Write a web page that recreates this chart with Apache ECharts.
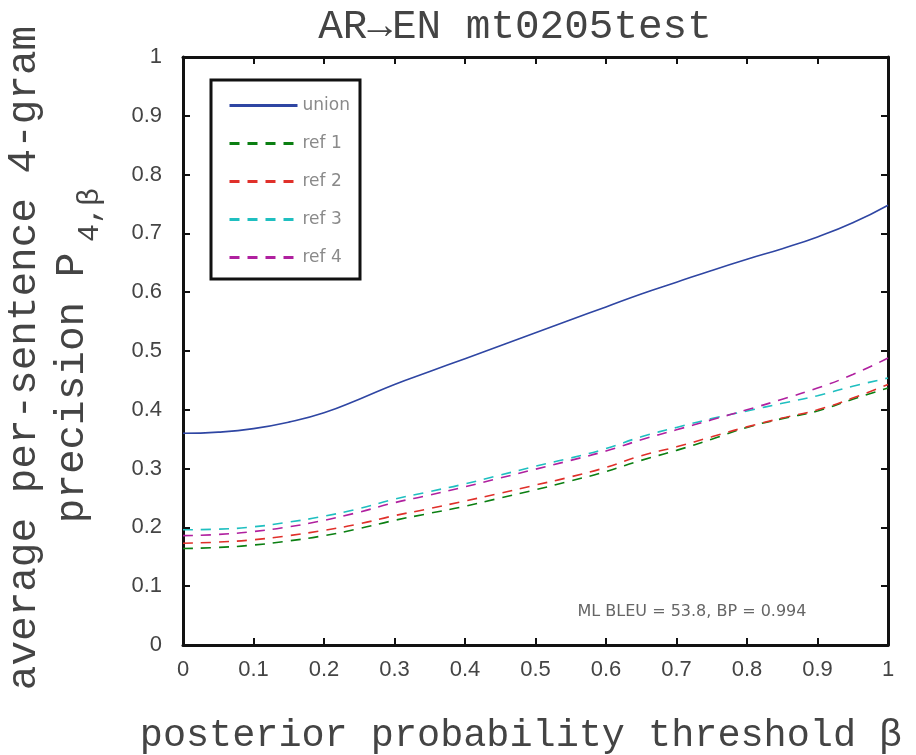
<!DOCTYPE html>
<html>
<head>
<meta charset="utf-8">
<script src="https://cdn.jsdelivr.net/npm/echarts@6/dist/echarts.min.js"></script>
<style>
html,body{margin:0;padding:0;background:#fff;}
#eChart{width:916px;height:755px;}
</style>
</head>
<body>
<div id="eChart"></div>
<script>
// posterior probability threshold (x)
var beta = [0, 0.05, 0.1, 0.15, 0.2, 0.25, 0.3, 0.35, 0.4, 0.45, 0.5,
            0.55, 0.6, 0.65, 0.7, 0.75, 0.8, 0.85, 0.9, 0.95, 1];
// average per-sentence 4-gram precision
var union = [0.360, 0.362, 0.368, 0.379, 0.395, 0.418, 0.443, 0.465, 0.487, 0.509, 0.531,
             0.553, 0.575, 0.597, 0.617, 0.637, 0.656, 0.674, 0.694, 0.718, 0.748];
var ref1 = [0.164, 0.166, 0.170, 0.177, 0.186, 0.198, 0.212, 0.224, 0.236, 0.250, 0.264,
            0.279, 0.295, 0.314, 0.331, 0.350, 0.370, 0.385, 0.398, 0.418, 0.437];
var ref2 = [0.173, 0.175, 0.179, 0.186, 0.195, 0.206, 0.220, 0.232, 0.245, 0.258, 0.272,
            0.286, 0.302, 0.322, 0.337, 0.354, 0.371, 0.386, 0.400, 0.420, 0.443];
var ref3 = [0.196, 0.197, 0.201, 0.209, 0.219, 0.232, 0.248, 0.261, 0.274, 0.289, 0.304,
            0.318, 0.334, 0.354, 0.370, 0.385, 0.398, 0.411, 0.424, 0.440, 0.454];
var ref4 = [0.186, 0.188, 0.193, 0.201, 0.212, 0.226, 0.242, 0.255, 0.269, 0.284, 0.299,
            0.314, 0.330, 0.349, 0.366, 0.383, 0.400, 0.418, 0.437, 0.460, 0.488];
var seriesNames = ['union', 'ref 1', 'ref 2', 'ref 3', 'ref 4'];
var seriesColors = ['#2f46a3', '#0b7f12', '#e0302a', '#1fbfc0', '#b0209f'];
var tickLabels = ['0', '0.1', '0.2', '0.3', '0.4', '0.5', '0.6', '0.7', '0.8', '0.9', '1'];

var MONO = '"Liberation Mono", "DejaVu Sans Mono", monospace';
var TICKFONT = '"Liberation Sans", Arial, sans-serif';

function pairs(ys){
    var out = [];
    for(var i=0;i<beta.length;i++){
        out.push([beta[i], ys[i]]);
    }
    return out;
}

var myChart = echarts.init(document.getElementById('eChart'));
var allData = [union, ref1, ref2, ref3, ref4];
var series = [];
for(var k=0;k<allData.length;k++){
    series.push({
        name: seriesNames[k],
        type: 'line',
        symbol: 'none',
        smooth: true,
        data: pairs(allData[k]),
        lineStyle: {
            color: seriesColors[k],
            width: 1.6,
            type: k === 0 ? 'solid' : [10, 8]
        },
        itemStyle: {color: seriesColors[k]}
    });
}

var frameLine = {show: true, onZero: false, lineStyle: {color: '#111', width: 3}};
var tick = {show: true, inside: true, length: 7, lineStyle: {color: '#111', width: 2}};

var option = {
    animation: false,
    backgroundColor: '#fff',
    grid: {left: 183, right: 28, top: 57, bottom: 110, containLabel: false},
    legend: {
        data: seriesNames,
        orient: 'vertical',
        left: 223,
        top: 92,
        z: 10,
        itemWidth: 68,
        itemHeight: 18,
        itemGap: 21,
        itemStyle: {opacity: 0, borderWidth: 0},
        lineStyle: {width: 3},
        textStyle: {fontFamily: '"DejaVu Sans", sans-serif', fontSize: 17, color: '#8a8a8a'}
    },
    xAxis: [{
        type: 'value', min: 0, max: 1, interval: 0.1, position: 'bottom',
        axisLine: frameLine, axisTick: tick, splitLine: {show: false},
        axisLabel: {
            margin: 14, fontFamily: TICKFONT, fontSize: 22, color: '#444',
            formatter: function(v){ return tickLabels[Math.round(v*10)]; }
        }
    }, {
        type: 'value', min: 0, max: 1, interval: 0.1, position: 'top',
        axisLine: frameLine, axisTick: tick, splitLine: {show: false},
        axisLabel: {show: false}
    }],
    yAxis: [{
        type: 'value', min: 0, max: 1, interval: 0.1, position: 'left',
        axisLine: frameLine, axisTick: tick, splitLine: {show: false},
        axisLabel: {
            margin: 21, fontFamily: TICKFONT, fontSize: 22, color: '#444',
            padding: [0, 0, 12, 0],
            formatter: function(v){ return tickLabels[Math.round(v*10)]; }
        }
    }, {
        type: 'value', min: 0, max: 1, interval: 0.1, position: 'right',
        axisLine: frameLine, axisTick: tick, splitLine: {show: false},
        axisLabel: {show: false}
    }],
    graphic: [
        {type: 'rect', z: 5, shape: {x: 211, y: 80, width: 149, height: 199},
         style: {fill: '#fff', stroke: '#111', lineWidth: 3}},
        {type: 'text', x: 515, y: 27, z: 5,
         style: {text: 'AR\u2192EN mt0205test', font: '41px ' + MONO, fill: '#444', align: 'center', verticalAlign: 'middle'}},
        {type: 'text', x: 521, y: 736, z: 5,
         style: {text: 'posterior probability threshold \u03b2', font: '38.5px ' + MONO, fill: '#444', align: 'center', verticalAlign: 'middle'}},
        {type: 'text', x: 24, y: 358, rotation: Math.PI/2, z: 5,
         style: {text: 'average per-sentence 4-gram', font: '41px ' + MONO, fill: '#444', align: 'center', verticalAlign: 'middle'}},
        {type: 'text', x: 72, y: 388, rotation: Math.PI/2, z: 5,
         style: {text: 'precision P', font: '41px ' + MONO, fill: '#444', align: 'center', verticalAlign: 'middle'}},
        {type: 'text', x: 90, y: 215, rotation: Math.PI/2, z: 5,
         style: {text: '4,\u03b2', font: '30px ' + MONO, fill: '#444', align: 'center', verticalAlign: 'middle'}},
        {type: 'text', x: 692, y: 612, z: 5,
         style: {text: 'ML BLEU = 53.8, BP = 0.994', font: '16px "DejaVu Sans", sans-serif', fill: '#666', align: 'center', verticalAlign: 'middle'}}
    ],
    series: series
};
myChart.setOption(option);
</script>
</body>
</html>
